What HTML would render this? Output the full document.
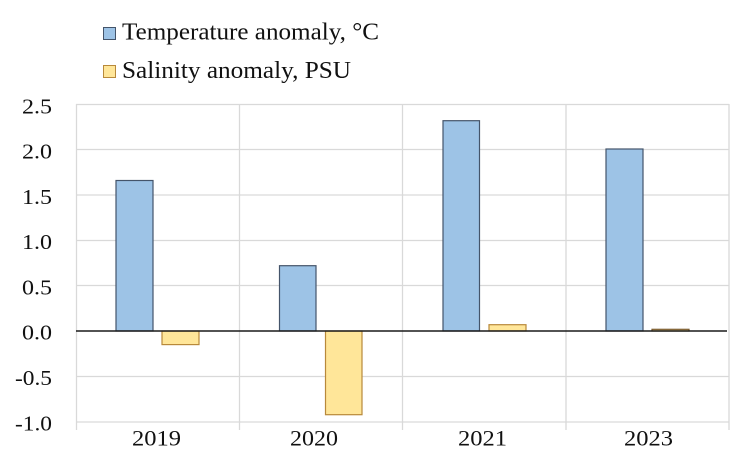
<!DOCTYPE html>
<html><head><meta charset="utf-8"><style>
html,body{margin:0;padding:0;background:#fff;}
svg{display:block;}
text{font-family:"Liberation Serif","Times New Roman",serif;fill:#111;}
</style></head><body>
<svg width="751" height="459" viewBox="0 0 751 459" xmlns="http://www.w3.org/2000/svg">
<rect width="751" height="459" fill="#fff"/>
<!-- legend -->
<rect x="103.5" y="27.5" width="12" height="12" fill="#9dc3e6" stroke="#44546a" stroke-width="1"/>
<text x="122" y="39.5" font-size="24" textLength="257" lengthAdjust="spacingAndGlyphs">Temperature anomaly, °C</text>
<rect x="103.5" y="65.5" width="12" height="12" fill="#ffe699" stroke="#b8893a" stroke-width="1"/>
<text x="122" y="78" font-size="24" textLength="229" lengthAdjust="spacingAndGlyphs">Salinity anomaly, PSU</text>
<!-- grid -->
<g stroke="#d9d9d9" stroke-width="1.3">
<line x1="76" y1="104.5" x2="729" y2="104.5"/>
<line x1="76" y1="149.5" x2="729" y2="149.5"/>
<line x1="76" y1="195" x2="729" y2="195"/>
<line x1="76" y1="240.5" x2="729" y2="240.5"/>
<line x1="76" y1="285.5" x2="729" y2="285.5"/>
<line x1="76" y1="376.5" x2="729" y2="376.5"/>
<line x1="76" y1="422" x2="729" y2="422"/>
<line x1="76.5" y1="104" x2="76.5" y2="430"/>
<line x1="239.5" y1="104" x2="239.5" y2="430"/>
<line x1="402.5" y1="104" x2="402.5" y2="430"/>
<line x1="566" y1="104" x2="566" y2="430"/>
<line x1="729" y1="104" x2="729" y2="430"/>
</g>
<!-- bars -->
<g fill="#9dc3e6" stroke="#44546a" stroke-width="1.2">
<rect x="116" y="180.5" width="37" height="150.5"/>
<rect x="279.5" y="265.7" width="36.5" height="65.3"/>
<rect x="443" y="120.7" width="36.5" height="210.3"/>
<rect x="606" y="149" width="37" height="182"/>
</g>
<g fill="#ffe699" stroke="#b8893a" stroke-width="1.2">
<rect x="162" y="331" width="37" height="13.6"/>
<rect x="325.5" y="331" width="36.5" height="83.7"/>
<rect x="489" y="324.7" width="37" height="6.3"/>
<rect x="652" y="329.3" width="37" height="1.7" stroke="#7a5a30"/>
</g>
<line x1="76" y1="331" x2="727" y2="331" stroke="#1a1a1a" stroke-width="1.6"/>
<!-- y labels -->
<g font-size="21" text-anchor="end">
<text x="52" y="113.3" textLength="30" lengthAdjust="spacingAndGlyphs">2.5</text>
<text x="52" y="158.5" textLength="30" lengthAdjust="spacingAndGlyphs">2.0</text>
<text x="52" y="204" textLength="30" lengthAdjust="spacingAndGlyphs">1.5</text>
<text x="52" y="249" textLength="30" lengthAdjust="spacingAndGlyphs">1.0</text>
<text x="52" y="294.5" textLength="30" lengthAdjust="spacingAndGlyphs">0.5</text>
<text x="52" y="339.5" textLength="30" lengthAdjust="spacingAndGlyphs">0.0</text>
<text x="52" y="385" textLength="37" lengthAdjust="spacingAndGlyphs">-0.5</text>
<text x="52" y="430.5" textLength="37" lengthAdjust="spacingAndGlyphs">-1.0</text>
</g>
<!-- x labels -->
<g font-size="22">
<text x="132" y="445.5" textLength="49" lengthAdjust="spacingAndGlyphs">2019</text>
<text x="290" y="445.5" textLength="48" lengthAdjust="spacingAndGlyphs">2020</text>
<text x="458" y="445.5" textLength="49" lengthAdjust="spacingAndGlyphs">2021</text>
<text x="624" y="445.5" textLength="49" lengthAdjust="spacingAndGlyphs">2023</text>
</g>
</svg>
</body></html>
